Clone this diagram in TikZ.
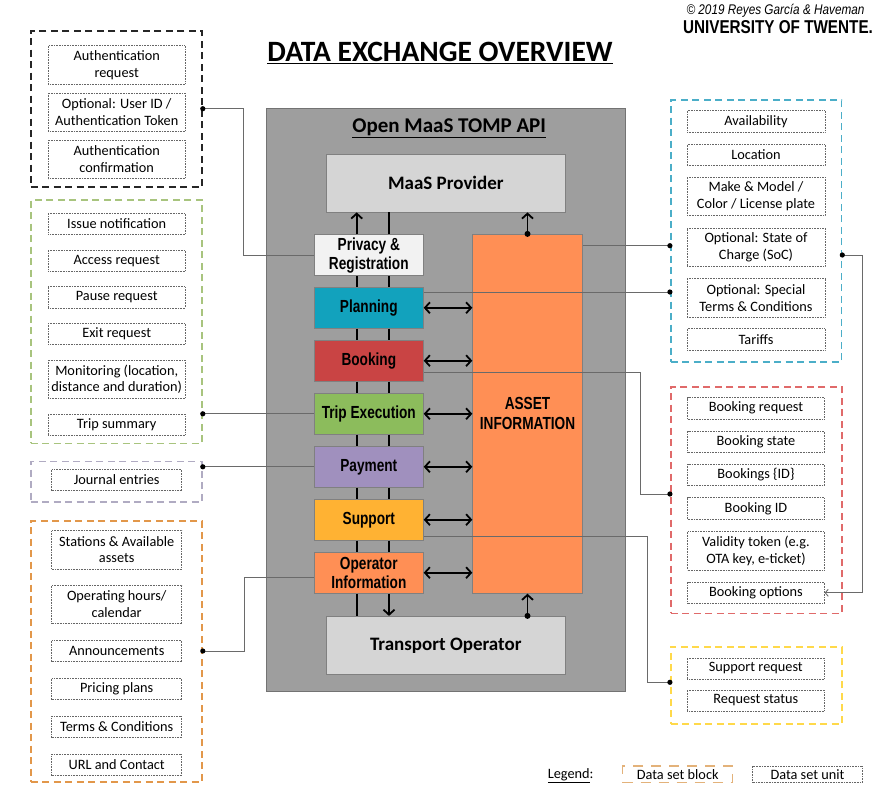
\documentclass[tikz,border=0pt]{standalone}
\usepackage{fontspec}
\setmainfont{Carlito}
\newfontfamily\nb[FakeStretch=0.78]{Liberation Sans}
\newfontfamily\cf[FakeStretch=0.84]{Liberation Sans}
\newfontfamily\uf[FakeStretch=0.82]{Liberation Sans}
\usetikzlibrary{arrows.meta}
\definecolor{apigray}{HTML}{9E9E9E}
\definecolor{maasgray}{HTML}{D5D5D5}
\definecolor{privc}{HTML}{F2F2F2}
\definecolor{planc}{HTML}{12A2BD}
\definecolor{bookc}{HTML}{C94444}
\definecolor{tripc}{HTML}{8CBC5C}
\definecolor{payc}{HTML}{A090BE}
\definecolor{suppc}{HTML}{FFB233}
\definecolor{orc}{HTML}{FF8F55}
\definecolor{gA}{HTML}{262626}
\definecolor{gB}{HTML}{A8C47E}
\definecolor{gC}{HTML}{B0ABC2}
\definecolor{gD}{HTML}{E2974A}
\definecolor{gE}{HTML}{4BAEC8}
\definecolor{gF}{HTML}{E06A6A}
\definecolor{gG}{HTML}{FFD94A}
\definecolor{legc}{HTML}{E3B27A}
\definecolor{connc}{HTML}{6A6A6A}
\begin{document}
\begin{tikzpicture}[x=1pt,y=-1pt,
  grp/.style={draw, line width=1.6pt, dash pattern=on 7pt off 4.5pt, minimum width=171.3pt, inner sep=0pt},
  unit/.style={draw=black!60, line width=0.6pt, dash pattern=on 0.7pt off 0.9pt, inner sep=0pt, align=center,
    font=\fontsize{14.3}{16.7}\selectfont, minimum width=136.7pt, minimum height=21.3pt},
  unitL/.style={unit, minimum width=130pt},
  two/.style={minimum height=38.5pt},
  cbox/.style={draw=black!50, line width=0.8pt, minimum width=109pt, minimum height=41pt, inner sep=0pt, align=center,
    font=\nb\bfseries\fontsize{17.5}{19.3}\selectfont},
  bigbox/.style={draw=black!50, line width=0.8pt, fill=maasgray, inner sep=0pt, font=\bfseries\fontsize{19}{22}\selectfont},
  conn/.style={draw=connc, line width=0.9pt},
  bar/.style={line width=1.8pt},
  arr/.style={bar, -{Straight Barb[length=5pt, width=11pt]}},
  darr/.style={bar, {Straight Barb[length=5pt, width=11pt]}-{Straight Barb[length=5pt, width=11pt]}}
]
\useasboundingbox (0,0) rectangle (881,809);

% header
\node[anchor=base, font=\bfseries\fontsize{29.5}{31}\selectfont] (title) at (440,61.7) {\underline{DATA EXCHANGE OVERVIEW}};
\node[anchor=base, font=\cf\itshape\fontsize{14}{16}\selectfont] (copy) at (775.5,14) {© 2019 Reyes García \& Haveman};
\node[anchor=base, font=\uf\bfseries\fontsize{18.6}{20}\selectfont] (ut) at (778,33) {UNIVERSITY OF TWENTE.};

% central API block
\node[draw=black!55, fill=apigray, line width=1pt, minimum width=359.7pt, minimum height=583.7pt, inner sep=0pt] (api) at (445.85,399.85) {};
\node[anchor=base, font=\bfseries\fontsize{21}{24}\selectfont] (apit) at (449.2,132.3) {\underline{Open MaaS TOMP API}};
\node[bigbox, minimum width=239.7pt, minimum height=57.7pt] (maas) at (445.85,183.15) {MaaS Provider};
\node[bigbox, minimum width=239pt, minimum height=58pt] (transport) at (445.8,645.3) {Transport Operator};

\node[cbox, fill=privc] (privacy) at (368.8,255.2) {Privacy \&\\Registration};
\node[cbox, fill=planc] (planning) at (368.8,307.8) {Planning};
\node[cbox, fill=bookc] (booking) at (368.8,360.7) {Booking};
\node[cbox, fill=tripc] (trip) at (368.8,413.8) {Trip Execution};
\node[cbox, fill=payc] (payment) at (368.8,466.8) {Payment};
\node[cbox, fill=suppc] (support) at (368.8,519.7) {Support};
\node[cbox, fill=orc] (operator) at (368.8,572.7) {Operator\\Information};
\node[cbox, fill=orc, minimum width=109.6pt, minimum height=359pt, font=\nb\bfseries\fontsize{17.5}{20}\selectfont] (asset) at (527.5,413.8) {ASSET\\INFORMATION};

\coordinate (bl) at (356.7,0);
\coordinate (br) at (389,0);
\foreach \a/\b in {privacy/planning, planning/booking, booking/trip, trip/payment, payment/support, support/operator} {
  \draw[bar] (\a.south -| bl) -- (\b.north -| bl);
  \draw[bar] (\a.south -| br) -- (\b.north -| br);
}
\draw[arr] (privacy.north -| bl) -- (maas.south -| bl);
\draw[bar] (privacy.north -| br) -- (maas.south -| br);
\draw[bar] (operator.south -| bl) -- (transport.north -| bl);
\draw[arr] (operator.south -| br) -- (transport.north -| br);
\foreach \n in {planning,booking,trip,payment,support,operator}
  \draw[darr] (\n.east) -- (\n.east -| asset.west);
\draw[arr] (asset.north) -- (maas.south -| asset.north);
\fill (asset.north) circle[radius=3pt];
\draw[arr] (transport.north -| asset.south) -- (asset.south);
\fill (transport.north -| asset.south) circle[radius=3pt];

% left groups
\node[grp, draw=gA, minimum height=156pt] (g1) at (116.35,108.7) {};
\node[unit, two] (a1) at (116.7,65) {Authentication\\request};
\node[unit, two] (a2) at (116.7,112.2) {Optional: User ID /\\Authentication Token};
\node[unit, two] (a3) at (116.7,159.3) {Authentication\\confirmation};

\node[grp, draw=gB, minimum height=243.3pt] (g2) at (116.35,321.65) {};
\node[unit] (b1) at (116.7,223.8) {Issue notification};
\node[unit] (b2) at (116.7,260.7) {Access request};
\node[unit] (b3) at (116.7,297.3) {Pause request};
\node[unit] (b4) at (116.7,334) {Exit request};
\node[unit, two] (b5) at (116.7,379.2) {Monitoring (location,\\distance and duration)};
\node[unit] (b6) at (116.7,424.5) {Trip summary};

\node[grp, draw=gC, minimum height=40.2pt] (g3) at (116.35,481.6) {};
\node[unitL] (c1) at (116.7,480) {Journal entries};

\node[grp, draw=gD, minimum height=260.7pt] (g4) at (116.35,651.35) {};
\node[unitL, two] (d1) at (116.7,549.7) {Stations \& Available\\assets};
\node[unitL, two] (d2) at (116.7,604.3) {Operating hours/\\calendar};
\node[unitL] (d3) at (116.7,651) {Announcements};
\node[unitL] (d4) at (116.7,689) {Pricing plans};
\node[unitL] (d5) at (116.7,726.7) {Terms \& Conditions};
\node[unitL] (d6) at (116.7,764.7) {URL and Contact};

% right groups
\node[grp, draw=gE, minimum width=170.8pt, minimum height=261.7pt] (g5) at (756.1,230.85) {};
\node[unit, minimum width=138pt] (e1) at (756,121.2) {Availability};
\node[unit, minimum width=138pt] (e2) at (756,155) {Location};
\node[unit, minimum width=138pt, two] (e3) at (756,196.5) {Make \& Model /\\Color / License plate};
\node[unit, minimum width=138pt, two] (e4) at (756,247.2) {Optional: State of\\Charge (SoC)};
\node[unit, minimum width=138pt, two] (e5) at (756,297.8) {Optional: Special\\Terms \& Conditions};
\node[unit, minimum width=138pt] (e6) at (756,339.2) {Tariffs};

\node[grp, draw=gF, minimum width=171pt, minimum height=226.6pt] (g6) at (756.2,500) {};
\node[unit] (f1) at (756,408.2) {Booking request};
\node[unit] (f2) at (756,441.7) {Booking state};
\node[unit] (f3) at (756,475) {Bookings \{ID\}};
\node[unit] (f4) at (756,508.3) {Booking ID};
\node[unit, two] (f5) at (756,550.8) {Validity token (e.g.\\OTA key, e-ticket)};
\node[unit] (bopt) at (756,592.8) {Booking options};

\node[grp, draw=gG, minimum width=171pt, minimum height=77.3pt] (g7) at (756.2,685.35) {};
\node[unit] (h1) at (755.8,668.5) {Support request};
\node[unit] (h2) at (755.8,700.5) {Request status};

% connectors
\coordinate (xl1) at (243.3,0);
\coordinate (xl4) at (244,0);
\coordinate (yo4) at (0,577.3);
\coordinate (ya) at (0,245.7);
\coordinate (yp) at (0,292);
\coordinate (yb) at (0,372.3);
\coordinate (yb2) at (0,494);
\coordinate (xb) at (640.7,0);
\coordinate (ys) at (0,536.7);
\coordinate (ys2) at (0,682.3);
\coordinate (xs) at (647.7,0);
\coordinate (yo) at (0,255);
\coordinate (xo) at (862.7,0);

\draw[conn] (g1.east) -| (xl1 |- privacy.west) -- (privacy.west);
\fill (g1.east) circle[radius=2.6pt];
\draw[conn] (trip.west) -- (trip.west -| g2.east);
\fill (trip.west -| g2.east) circle[radius=2.6pt];
\draw[conn] (payment.west) -- (payment.west -| g3.east);
\fill (payment.west -| g3.east) circle[radius=2.6pt];
\draw[conn] (d3.east -| g4.east) -| (xl4 |- yo4) -- (operator.west |- yo4);
\fill (d3.east -| g4.east) circle[radius=2.6pt];

\draw[conn] (asset.east |- ya) -- (g5.west |- ya);
\fill (g5.west |- ya) circle[radius=2.6pt];
\draw[conn] (planning.east |- yp) -- (g5.west |- yp);
\fill (g5.west |- yp) circle[radius=2.6pt];
\draw[conn] (booking.east |- yb) -| (xb |- yb2) -- (g6.west |- yb2);
\fill (g6.west |- yb2) circle[radius=2.6pt];
\draw[conn] (support.east |- ys) -| (xs |- ys2) -- (g7.west |- ys2);
\fill (g7.west |- ys2) circle[radius=2.6pt];
\draw[conn, -{Straight Barb[length=3pt, width=7pt]}] (g5.east |- yo) -| (xo |- bopt.east) -- (bopt.east);
\fill (g5.east |- yo) circle[radius=2.6pt];

% legend
\node[anchor=base, font=\fontsize{14.3}{16}\selectfont] (leg) at (570.7,778.3) {\underline{Legend}:};
\node[draw=legc, line width=1.3pt, dash pattern=on 10pt off 8pt, minimum width=110pt, minimum height=16.3pt, inner sep=0pt, font=\fontsize{14.3}{16}\selectfont] (lb) at (677.7,774.2) {Data set block};
\node[unit, minimum width=109.6pt, minimum height=16.3pt, font=\fontsize{14.3}{16}\selectfont] (lu) at (807.5,774.2) {Data set unit};
\end{tikzpicture}
\end{document}
